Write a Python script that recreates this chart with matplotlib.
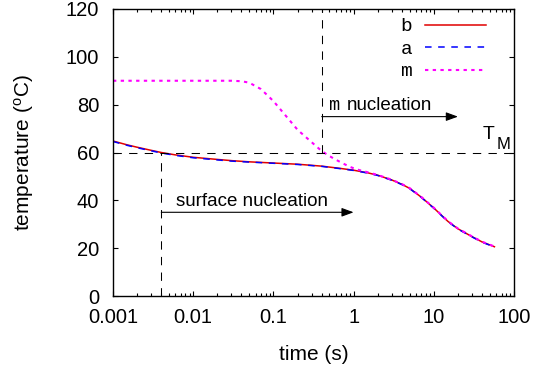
import matplotlib
matplotlib.use("Agg")
import matplotlib.pyplot as plt
from matplotlib.ticker import LogLocator, FixedLocator, NullFormatter, FuncFormatter

plt.rcParams.update({
    "font.family": "Liberation Sans",
    "mathtext.default": "regular",
    "axes.linewidth": 1.0,
})

# ── data ────────────────────────────────────────────────────────
t_b = [0.001, 0.0015, 0.002, 0.003, 0.004, 0.006, 0.01, 0.02, 0.03, 0.05, 0.1,
       0.2, 0.4, 0.7, 1.0, 1.5, 2.0, 3.0, 4.0, 5.0, 7.0, 10, 15, 20, 30, 40, 57]
T_b = [64.8, 63.2, 62.2, 60.9, 60.0, 59.0, 58.0, 57.1, 56.6, 56.1, 55.6,
       55.1, 54.3, 53.3, 52.6, 51.5, 50.5, 48.5, 46.7, 45.0, 41.3, 36.8, 31.2, 28.1, 24.8, 22.6, 20.6]

t_a = t_b
T_a = [64.6, 63.0, 62.0, 60.7, 59.8, 58.8, 57.8, 56.9, 56.4, 56.0, 55.5,
       55.0, 54.2, 53.2, 52.5, 51.4, 50.4, 48.4, 46.6, 44.9, 41.2, 36.7, 31.1, 28.0, 24.7, 22.5, 20.5]

t_m = [0.001, 0.01, 0.03, 0.04, 0.05, 0.07, 0.1, 0.15, 0.2, 0.3, 0.4, 0.5, 0.6,
       0.75, 0.9, 1.1, 1.4, 2.0, 3.0, 4.0, 5.0, 7.0, 10, 15, 20, 30, 40, 57]
T_m = [90.0, 90.0, 90.0, 89.8, 89.2, 86.5, 81.5, 74.5, 69.5, 64.3, 60.6, 58.5, 57.0,
       55.3, 54.0, 52.9, 52.0, 50.6, 48.6, 46.8, 45.1, 41.4, 36.9, 31.3, 28.2, 24.9, 22.7, 20.7]

T_melt = 60          # T_M
t_surface = 0.004    # b crosses T_M
t_mnuc = 0.4         # m crosses T_M
surface_arrow = (0.004, 1.0, 35)
m_arrow = (0.4, 20.0, 75)

x_ticks = [0.001, 0.01, 0.1, 1, 10, 100]
y_ticks = [0, 20, 40, 60, 80, 100, 120]

# ── figure ──────────────────────────────────────────────────────
fig = plt.figure(figsize=(5.36, 3.76), dpi=100)
ax = fig.add_axes([113 / 536, 80 / 376, 401 / 536, 287 / 376])

ax.plot(t_b, T_b, color="#e00000", lw=1.1, label="b")
ax.plot(t_a, T_a, color="#0000ff", lw=1.1, ls=(0, (4.3, 4.3)), label="a")
ax.plot(t_m, T_m, color="#ff00ff", lw=1.5, ls=(0, (1.6, 2.1)), label="m")

# reference lines
dash = (0, (8, 7))
ax.axhline(T_melt, color="k", lw=0.75, ls=dash)
ax.plot([t_surface, t_surface], [0, T_melt], color="k", lw=0.75, ls=dash)
ax.plot([t_mnuc, t_mnuc], [T_melt, 120], color="k", lw=0.75, ls=dash)

arrow = dict(arrowstyle="-|>,head_length=0.6,head_width=0.22", color="k",
             lw=0.8, mutation_scale=12, shrinkA=0, shrinkB=0)
ax.annotate("", xy=(surface_arrow[1], surface_arrow[2]),
            xytext=(surface_arrow[0], surface_arrow[2]), arrowprops=arrow)
ax.annotate("", xy=(m_arrow[1], m_arrow[2]),
            xytext=(m_arrow[0], m_arrow[2]), arrowprops=arrow)

ax.text(0.0061, 37.7, "surface nucleation", fontsize=13.5, va="baseline")
ax.text(0.48, 77.8, "m", fontsize=13.5, va="baseline", family="Liberation Mono")
ax.text(0.82, 77.8, "nucleation", fontsize=13.5, va="baseline")
ax.text(41, 65.8, "T", fontsize=14, va="baseline")
ax.text(60.8, 61.6, "M", fontsize=12, va="baseline")

ax.set_xscale("log")
ax.set_xlim(0.001, 100)
ax.set_ylim(0, 120)
ax.xaxis.set_major_locator(FixedLocator(x_ticks))
ax.xaxis.set_major_formatter(FuncFormatter(lambda v, p: f"{v:g}"))
ax.xaxis.set_minor_locator(LogLocator(base=10, subs=range(2, 10)))
ax.xaxis.set_minor_formatter(NullFormatter())
ax.set_yticks(y_ticks)

ax.tick_params(which="both", direction="in", top=True, right=True, labelsize=14.5)
ax.tick_params(which="major", length=3.5, width=0.8)
ax.tick_params(which="minor", length=2, width=0.8)
ax.tick_params(axis="x", pad=8.5)
ax.tick_params(axis="y", pad=10)

ax.set_xlabel("time (s)", fontsize=15, va="center")
ax.xaxis.set_label_coords(0.5, (296 - 355) / 287)
ax.set_ylabel("temperature ($^o$C)", fontsize=15, va="center")
ax.yaxis.set_label_coords((24 - 113) / 401, 0.5)

ax.legend(loc="upper right", bbox_to_anchor=(0.94, 0.983), markerfirst=False,
          frameon=False, prop={"family": "Liberation Mono", "size": 14},
          handlelength=3.13, handletextpad=0.67, labelspacing=0.25,
          borderpad=0.2, borderaxespad=0)

fig.savefig("out.png", dpi=100)
